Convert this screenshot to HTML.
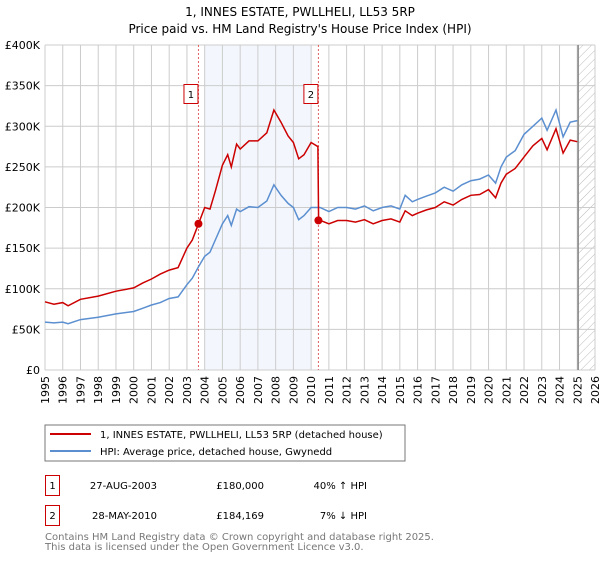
<!DOCTYPE html>
<html><head><meta charset="utf-8"><style>
body{margin:0;background:#fff;font-family:"DejaVu Sans","Liberation Sans",sans-serif;}
svg text{font-family:"DejaVu Sans","Liberation Sans",sans-serif;}
</style></head><body>
<svg id="chart" width="600" height="560" xmlns="http://www.w3.org/2000/svg">
<defs><pattern id="hatch" width="6" height="6" patternUnits="userSpaceOnUse" patternTransform="rotate(45)"><line x1="0" y1="0" x2="0" y2="6" stroke="#bbb" stroke-width="1"/></pattern></defs>
<text x="300" y="16" text-anchor="middle" font-size="12" fill="#000">1, INNES ESTATE, PWLLHELI, LL53 5RP</text>
<text x="300" y="33" text-anchor="middle" font-size="12" fill="#000">Price paid vs. HM Land Registry's House Price Index (HPI)</text>
<g id="plot"></g>
<rect x="45" y="425" width="360" height="36" fill="#fff" stroke="#777"/>
<line x1="50" y1="434" x2="91" y2="434" stroke="#cc0000" stroke-width="2"/>
<text x="100" y="438" font-size="10">1, INNES ESTATE, PWLLHELI, LL53 5RP (detached house)</text>
<line x1="50" y1="451" x2="91" y2="451" stroke="#5b8fd0" stroke-width="2"/>
<text x="100" y="455" font-size="10">HPI: Average price, detached house, Gwynedd</text>
<g>
<rect x="45.5" y="475.5" width="14" height="20" fill="#fff" stroke="#cc0000"/>
<text x="52.5" y="489" text-anchor="middle" font-size="10">1</text>
<text x="157" y="489" text-anchor="end" font-size="10">27-AUG-2003</text>
<text x="264" y="489" text-anchor="end" font-size="10">£180,000</text>
<text x="367" y="489" text-anchor="end" font-size="10">40% ↑ HPI</text></g>
<g>
<rect x="45.5" y="505.5" width="14" height="20" fill="#fff" stroke="#cc0000"/>
<text x="52.5" y="519" text-anchor="middle" font-size="10">2</text>
<text x="157" y="519" text-anchor="end" font-size="10">28-MAY-2010</text>
<text x="264" y="519" text-anchor="end" font-size="10">£184,169</text>
<text x="367" y="519" text-anchor="end" font-size="10">7% ↓ HPI</text></g>
<text x="45" y="540" font-size="10" fill="#777">Contains HM Land Registry data © Crown copyright and database right 2025.</text>
<text x="45" y="550" font-size="10" fill="#777">This data is licensed under the Open Government Licence v3.0.</text>
</svg>
<script>
const yearTicks=[1995,1996,1997,1998,1999,2000,2001,2002,2003,2004,2005,2006,2007,2008,2009,2010,2011,2012,2013,2014,2015,2016,2017,2018,2019,2020,2021,2022,2023,2024,2025,2026];
const valueTicks=[0,50,100,150,200,250,300,350,400];
const valueLabels=["£0","£50K","£100K","£150K","£200K","£250K","£300K","£350K","£400K"];
const hpiDates=[1995,1995.5,1996,1996.3,1997,1998,1999,2000,2000.5,2001,2001.5,2002,2002.5,2003,2003.3,2003.65,2004,2004.3,2004.6,2005,2005.3,2005.5,2005.8,2006,2006.5,2007,2007.5,2007.9,2008.3,2008.7,2009,2009.3,2009.6,2010,2010.5,2011,2011.5,2012,2012.5,2013,2013.5,2014,2014.5,2015,2015.3,2015.7,2016,2016.5,2017,2017.5,2018,2018.5,2019,2019.5,2020,2020.4,2020.7,2021,2021.5,2022,2022.5,2023,2023.3,2023.8,2024.2,2024.6,2025];
const hpiValues=[59,58,59,57,62,65,69,72,76,80,83,88,90,105,113,127,140,145,160,180,190,178,198,195,201,200,208,228,215,205,200,185,190,200,200,195,200,200,198,202,196,200,202,198,215,207,210,214,218,225,220,228,233,235,240,230,250,262,270,290,300,310,295,320,287,305,307];
const priceDates=[1995,1995.5,1996,1996.3,1997,1998,1999,2000,2000.5,2001,2001.5,2002,2002.5,2003,2003.3,2003.65,2004,2004.3,2004.6,2005,2005.3,2005.5,2005.8,2006,2006.5,2007,2007.5,2007.9,2008.3,2008.7,2009,2009.3,2009.6,2010,2010.38,2010.42,2011,2011.5,2012,2012.5,2013,2013.5,2014,2014.5,2015,2015.3,2015.7,2016,2016.5,2017,2017.5,2018,2018.5,2019,2019.5,2020,2020.4,2020.7,2021,2021.5,2022,2022.5,2023,2023.3,2023.8,2024.2,2024.6,2025];
const priceValues=[84,81,83,79,87,91,97,101,107,112,118,123,126,150,160,180,200,198,220,252,265,250,278,272,282,282,292,320,305,288,280,260,265,280,275,185,180,184,184,182,185,180,184,186,182,196,190,193,197,200,207,203,210,215,216,222,212,230,241,248,262,276,285,271,297,267,283,281];
const saleDates=[2003.65,2010.41];
const saleValues=[180,184.169];
const saleLabels=["1","2"];
const X0=45,X1=595,Y0=370,Y1=45;
const xs=t=>X0+(t-1995)/(2026-1995)*(X1-X0);
const ys=v=>Y0-v/400*(Y0-Y1);
const NS="http://www.w3.org/2000/svg";
const plot=document.getElementById('plot');
function mk(tag,attrs){const e=document.createElementNS(NS,tag);for(const k in attrs)e.setAttribute(k,attrs[k]);plot.appendChild(e);return e;}
let e=mk('rect',{x:xs(2004),y:Y1,width:xs(2010)-xs(2004),height:Y0-Y1,fill:'#eef3fc',opacity:0.7});


e=mk('rect',{x:xs(2025.05),y:Y1,width:X1-xs(2025.05),height:Y0-Y1,fill:'url(#hatch)'});


yearTicks.forEach(t=>{const l=mk('line',{x1:xs(t),x2:xs(t),y1:Y1,y2:Y0,stroke:'#ccc','stroke-width':1});


const tx=mk('text',{x:0,y:0,'font-size':11,'text-anchor':'end',transform:`translate(${xs(t)+4},${Y0+6}) rotate(-90)`});tx.textContent=t;

});
valueTicks.forEach((v,i)=>{const l=mk('line',{x1:X0,x2:X1,y1:ys(v),y2:ys(v),stroke:'#ccc','stroke-width':1});


const tx=mk('text',{x:40,y:ys(v)+4,'font-size':11,'text-anchor':'end'});tx.textContent=valueLabels[i];

});
e=mk('line',{x1:xs(2025.05),x2:xs(2025.05),y1:Y1,y2:Y0,stroke:'#888','stroke-width':1.5});


saleDates.forEach((d,i)=>{const l=mk('line',{x1:xs(d),x2:xs(d),y1:Y1,y2:Y0,stroke:'#e06060','stroke-dasharray':'2,2','stroke-width':1});


const r=mk('rect',{x:xs(d)-14.5,y:84.5,width:14,height:19,fill:'#fff',stroke:'#cc0000'});


const t=mk('text',{x:xs(d)-7.5,y:98,'font-size':10,'text-anchor':'middle'});t.textContent=saleLabels[i];

});
const path=(ds,vs)=>ds.map((d,i)=>(i?'L':'M')+xs(d).toFixed(1)+','+ys(vs[i]).toFixed(1)).join(' ');
e=mk('path',{d:path(hpiDates,hpiValues),fill:'none',stroke:'#5b8fd0','stroke-width':1.5});


e=mk('path',{d:path(priceDates,priceValues),fill:'none',stroke:'#cc0000','stroke-width':1.5});


saleDates.forEach((d,i)=>{const c=mk('circle',{cx:xs(d),cy:ys(saleValues[i]),r:4,fill:'#cc0000'});

});
</script>
</body></html>
